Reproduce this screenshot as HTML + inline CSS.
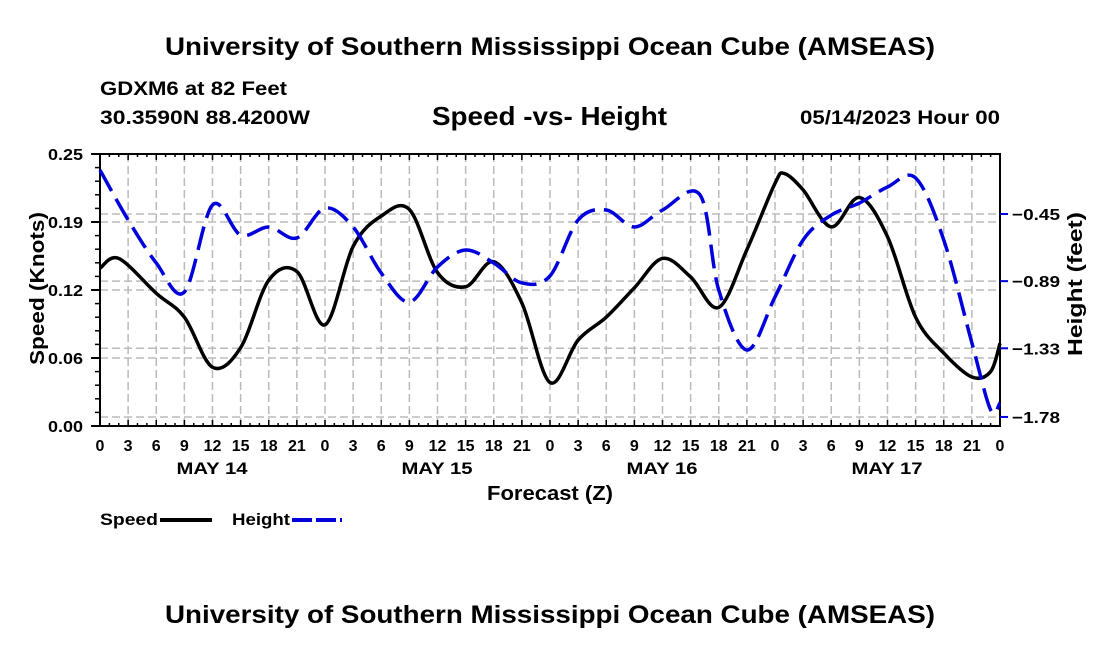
<!DOCTYPE html>
<html><head><meta charset="utf-8"><style>
body{margin:0;background:#fff;font-family:"Liberation Sans",sans-serif;}
svg{display:block}
text{font-family:"Liberation Sans",sans-serif;font-weight:bold;fill:#000}
</style></head><body>
<svg id="c" width="1100" height="650" viewBox="0 0 1100 650">
<text x="165" y="55" font-size="25" textLength="770" lengthAdjust="spacingAndGlyphs">University of Southern Mississippi Ocean Cube (AMSEAS)</text>
<text x="100" y="95" font-size="19" textLength="187" lengthAdjust="spacingAndGlyphs">GDXM6 at 82 Feet</text>
<text x="100" y="124" font-size="19" textLength="210" lengthAdjust="spacingAndGlyphs">30.3590N  88.4200W</text>
<text x="432" y="125" font-size="26" textLength="235" lengthAdjust="spacingAndGlyphs">Speed -vs- Height</text>
<text x="800" y="124" font-size="19" textLength="200" lengthAdjust="spacingAndGlyphs">05/14/2023 Hour 00</text>
<text x="487" y="500" font-size="20" textLength="126" lengthAdjust="spacingAndGlyphs">Forecast (Z)</text>
<text transform="translate(44,365) rotate(-90)" font-size="20" textLength="153" lengthAdjust="spacingAndGlyphs">Speed (Knots)</text>
<text transform="translate(1082,356) rotate(-90)" font-size="20" textLength="144" lengthAdjust="spacingAndGlyphs">Height (feet)</text>
<g>
<text x="100" y="525" font-size="17" textLength="58" lengthAdjust="spacingAndGlyphs">Speed</text>
<line x1="160" y1="520" x2="212" y2="520" stroke="#000" stroke-width="4"/>
<text x="232" y="525" font-size="17" textLength="58" lengthAdjust="spacingAndGlyphs">Height</text>
<line x1="292" y1="520" x2="342" y2="520" stroke="#0000dd" stroke-width="4" stroke-dasharray="20 4"/>
</g>
<text x="165" y="623" font-size="25" textLength="770" lengthAdjust="spacingAndGlyphs">University of Southern Mississippi Ocean Cube (AMSEAS)</text>
<g id="plot"></g>
</svg>
<script>
const speedHours=[0,2,6,9,12,15,18,21,24,27,30,33,36,39,42,45,48,51,54,57,60,63,66,69,72,73,75,78,81,84,87,90,93,95,96];
const speedValues=[0.145,0.154,0.122,0.100,0.054,0.072,0.134,0.142,0.093,0.165,0.193,0.199,0.141,0.128,0.151,0.113,0.040,0.079,0.100,0.127,0.154,0.137,0.109,0.162,0.223,0.232,0.217,0.183,0.210,0.174,0.100,0.067,0.045,0.050,0.076];
const heightHours=[0,3,6,9,12,15,18,21,24,27,30,33,36,39,42,45,48,51,54,57,60,64,66,69,72,75,78,81,84,87,90,93,95,96];
const heightValues=[-0.162,-0.489,-0.771,-0.961,-0.391,-0.588,-0.535,-0.607,-0.411,-0.535,-0.837,-1.027,-0.797,-0.686,-0.771,-0.902,-0.856,-0.489,-0.424,-0.535,-0.424,-0.325,-0.948,-1.341,-0.994,-0.620,-0.457,-0.378,-0.273,-0.214,-0.620,-1.295,-1.734,-1.689];
const leftTicks=[0,0.0625,0.125,0.1875,0.25];
const leftTickLabels=["0.00","0.06","0.12","0.19","0.25"];
const rightTicks=[-0.45,-0.89,-1.33,-1.78];
const rightTickLabels=["\u22120.45","\u22120.89","\u22121.33","\u22121.78"];
const hourLabels=["0","3","6","9","12","15","18","21"];
const dayLabels=["MAY 14","MAY 15","MAY 16","MAY 17"];

const X0=100,X1=1000,Y0=426,Y1=154;
const xs=h=>X0+h*(X1-X0)/96;
const ys=v=>Y0-v*(Y0-Y1)/0.25;
const yh=v=>214-(v+0.45)*152.6;
const NS="http://www.w3.org/2000/svg";
const plot=document.getElementById('plot');
function mk(t,a){const e=document.createElementNS(NS,t);for(const k in a)e.setAttribute(k,a[k]);plot.appendChild(e);return e;}

for(let h=0;h<=96;h+=3){const l=mk('line',{x1:xs(h),x2:xs(h),y1:Y1,y2:Y0,stroke:'#bbb','stroke-width':1.5,'stroke-dasharray':'8 4'});

}
leftTicks.slice(1,4).forEach(v=>{const l=mk('line',{x1:X0,x2:X1,y1:ys(v),y2:ys(v),stroke:'#bbb','stroke-width':1.5,'stroke-dasharray':'8 4'});

});
rightTicks.forEach(v=>{const l=mk('line',{x1:X0,x2:X1,y1:yh(v),y2:yh(v),stroke:'#bbb','stroke-width':1.5,'stroke-dasharray':'8 4'});

});

const fr=mk('rect',{x:X0,y:Y1,width:X1-X0,height:Y0-Y1,fill:'none',stroke:'#000','stroke-width':2});


for(let h=0;h<=96;h++){const len=h%3===0?6:3;
mk('line',{x1:xs(h),x2:xs(h),y1:Y0,y2:Y0-len,stroke:'#000','stroke-width':1.5});
mk('line',{x1:xs(h),x2:xs(h),y1:Y1,y2:Y1+len,stroke:'#000','stroke-width':1.5});}
for(let h=0;h<=96;h+=3){const t=mk('text',{x:xs(h),y:451,'text-anchor':'middle','font-size':16});t.textContent=hourLabels[(h/3)%8];

}
dayLabels.forEach((d,i)=>{const t=mk('text',{x:xs(i*24+12)-36,y:474,'font-size':17,textLength:71,lengthAdjust:'spacingAndGlyphs'});t.textContent=d;

});
for(let v=0;v<=0.25001;v+=0.0125){mk('line',{x1:X0-5,x2:X0,y1:ys(v),y2:ys(v),stroke:'#000','stroke-width':1.5});}
leftTicks.forEach((v,i)=>{mk('line',{x1:X0-9,x2:X0,y1:ys(v),y2:ys(v),stroke:'#000','stroke-width':2});
const t=mk('text',{x:X0-52,y:ys(v)+6,'font-size':16,textLength:35,lengthAdjust:'spacingAndGlyphs'});t.textContent=leftTickLabels[i];

});
rightTicks.forEach((v,i)=>{mk('line',{x1:X1,x2:X1+8,y1:yh(v),y2:yh(v),stroke:'#0000dd','stroke-width':2});
const t=mk('text',{x:X1+12,y:yh(v)+6,'font-size':16,textLength:48,lengthAdjust:'spacingAndGlyphs'});t.textContent=rightTickLabels[i];

});

function path(pts){let d=`M${pts[0][0]},${pts[0][1]}`;
for(let i=0;i<pts.length-1;i++){const p0=pts[i-1]||pts[i],p1=pts[i],p2=pts[i+1],p3=pts[i+2]||p2;
const c1=[p1[0]+(p2[0]-p0[0])/6,p1[1]+(p2[1]-p0[1])/6],c2=[p2[0]-(p3[0]-p1[0])/6,p2[1]-(p3[1]-p1[1])/6];
d+=` C${c1[0]},${c1[1]} ${c2[0]},${c2[1]} ${p2[0]},${p2[1]}`;}return d;}
const sp=mk('path',{d:path(speedHours.map((h,i)=>[xs(h),ys(speedValues[i])])),fill:'none',stroke:'#000','stroke-width':3.5});


const hp=mk('path',{d:path(heightHours.map((h,i)=>[xs(h),yh(heightValues[i])])),fill:'none',stroke:'#0000dd','stroke-width':3.5,'stroke-dasharray':'24 9'});


</script>
</body></html>
